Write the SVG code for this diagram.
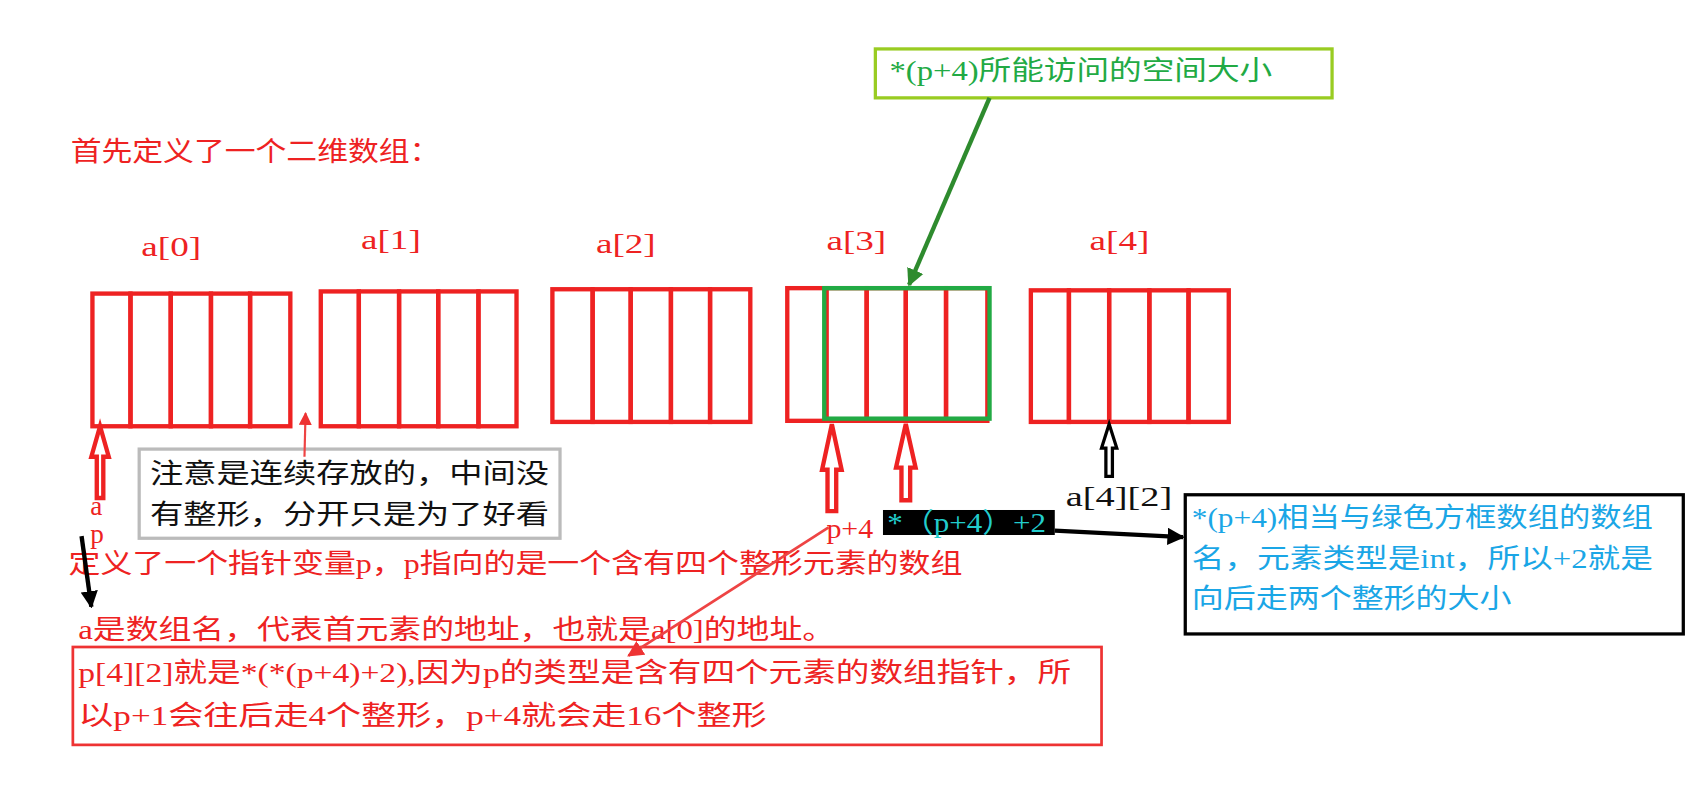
<svg xmlns="http://www.w3.org/2000/svg" width="1705" height="788" viewBox="0 0 1705 788">
<style>
text{font-family:"Liberation Serif","Noto Sans CJK SC",serif;font-size:25px}
.r{fill:#ee2222}.k{fill:#111}.c{fill:#1aa6e6}
.cell{fill:none;stroke:#ee2222;stroke-width:4}
.ho{fill:none;stroke:#ee2222;stroke-width:4}
</style>
<defs>
<marker id="ab" viewBox="0 0 10 10" refX="9" refY="5" markerWidth="4" markerHeight="4" orient="auto"><path d="M0,0L10,5L0,10z" fill="#000"/></marker>
<marker id="ar" viewBox="0 0 10 10" refX="9" refY="5" markerWidth="6" markerHeight="6" orient="auto"><path d="M0,0L10,5L0,10z" fill="#ee3333"/></marker>
<marker id="ag" viewBox="0 0 10 10" refX="9" refY="5" markerWidth="4" markerHeight="5" orient="auto"><path d="M0,0L10,5L0,10z" fill="#2e8b2e"/></marker>
</defs>
<rect width="1705" height="788" fill="#fff"/>
<g transform="scale(1.0874)">
<g id="title"><text class="r" x="65" y="148" textLength="340" lengthAdjust="spacingAndGlyphs">首先定义了一个二维数组：</text></g>
<g id="labels">
<text class="r" x="130" y="235" textLength="55" lengthAdjust="spacingAndGlyphs">a[0]</text><text class="r" x="332" y="229" textLength="55" lengthAdjust="spacingAndGlyphs">a[1]</text><text class="r" x="548" y="233" textLength="55" lengthAdjust="spacingAndGlyphs">a[2]</text><text class="r" x="760" y="230" textLength="55" lengthAdjust="spacingAndGlyphs">a[3]</text><text class="r" x="1002" y="230" textLength="55" lengthAdjust="spacingAndGlyphs">a[4]</text>
</g>
<g id="a0"><rect class="cell" x="85" y="270" width="35" height="122"/><rect class="cell" x="120" y="270" width="37" height="122"/><rect class="cell" x="157" y="270" width="37" height="122"/><rect class="cell" x="194" y="270" width="36" height="122"/><rect class="cell" x="230" y="270" width="37" height="122"/></g>
<g id="a1"><rect class="cell" x="295" y="268" width="35" height="124"/><rect class="cell" x="330" y="268" width="37" height="124"/><rect class="cell" x="367" y="268" width="36" height="124"/><rect class="cell" x="403" y="268" width="37" height="124"/><rect class="cell" x="440" y="268" width="35" height="124"/></g>
<g id="a2"><rect class="cell" x="508" y="266" width="37" height="122"/><rect class="cell" x="545" y="266" width="35" height="122"/><rect class="cell" x="580" y="266" width="37" height="122"/><rect class="cell" x="617" y="266" width="36" height="122"/><rect class="cell" x="653" y="266" width="37" height="122"/></g>
<g id="a3"><rect class="cell" x="724" y="265" width="36" height="122"/><rect class="cell" x="760" y="265" width="37" height="122"/><rect class="cell" x="797" y="265" width="36" height="122"/><rect class="cell" x="833" y="265" width="37" height="122"/><rect class="cell" x="870" y="265" width="38" height="122"/>
<rect x="758" y="265" width="152" height="120" fill="none" stroke="#22aa44" stroke-width="4"/></g>
<g id="a4"><rect class="cell" x="948" y="267" width="35" height="121"/><rect class="cell" x="983" y="267" width="37" height="121"/><rect class="cell" x="1020" y="267" width="37" height="121"/><rect class="cell" x="1057" y="267" width="36" height="121"/><rect class="cell" x="1093" y="267" width="37" height="121"/></g>
<g id="note"><rect x="128" y="413" width="387" height="82" fill="#fff" stroke="#bbb" stroke-width="3"/>
<text class="k" x="138" y="444" textLength="367" lengthAdjust="spacingAndGlyphs">注意是连续存放的，中间没</text><text class="k" x="138" y="482" textLength="367" lengthAdjust="spacingAndGlyphs">有整形，分开只是为了好看</text></g>
<g id="ap"><text class="r" x="83" y="474" font-size="22">a</text><text class="r" x="83" y="499" font-size="22">p</text></g>
<g id="t1"><text class="r" x="63" y="527" textLength="822" lengthAdjust="spacingAndGlyphs">定义了一个指针变量p，p指向的是一个含有四个整形元素的数组</text></g>
<g id="t2"><text class="r" x="72" y="588" textLength="696" lengthAdjust="spacingAndGlyphs">a是数组名，代表首元素的地址，也就是a[0]的地址。</text></g>
<g id="box1"><rect x="67" y="595" width="946" height="90" fill="none" stroke="#ee3333" stroke-width="2.5"/>
<text class="r" x="72" y="627" textLength="913" lengthAdjust="spacingAndGlyphs">p[4][2]就是*(*(p+4)+2),因为p的类型是含有四个元素的数组指针，所</text><text class="r" x="72" y="667" textLength="633" lengthAdjust="spacingAndGlyphs">以p+1会往后走4个整形，p+4就会走16个整形</text></g>
<g id="p4"><text class="r" x="760" y="495" textLength="43" lengthAdjust="spacingAndGlyphs">p+4</text></g>
<g id="expr"><rect x="812" y="469" width="158" height="23" fill="#000"/><text x="816" y="489" fill="#22cccc" font-size="22" textLength="146" lengthAdjust="spacingAndGlyphs">*（p+4）+2</text></g>
<g id="a42"><text class="k" x="980" y="465" textLength="98" lengthAdjust="spacingAndGlyphs">a[4][2]</text></g>
<g id="box2"><rect x="1090" y="455" width="458" height="128" fill="#fff" stroke="#000" stroke-width="3"/>
<text class="c" x="1096" y="485" textLength="424" lengthAdjust="spacingAndGlyphs">*(p+4)相当与绿色方框数组的数组</text><text class="c" x="1096" y="522" textLength="424" lengthAdjust="spacingAndGlyphs">名，元素类型是int，所以+2就是</text><text class="c" x="1096" y="559" textLength="294" lengthAdjust="spacingAndGlyphs">向后走两个整形的大小</text></g>
<g id="box3"><rect x="805" y="45" width="420" height="45" fill="#fff" stroke="#99cc22" stroke-width="3"/><text x="818" y="74" fill="#22aa44" textLength="352" lengthAdjust="spacingAndGlyphs">*(p+4)所能访问的空间大小</text></g>
<g id="connectors">
<path class="ho" d="M92,392 L84,420 L89,420 L89,458 L95,458 L95,420 L100,420 Z"/>
<path class="ho" d="M765,390 L756,432 L761,432 L761,470 L769,470 L769,432 L774,432 Z"/>
<path class="ho" d="M833,390 L824,430 L829,430 L829,460 L837,460 L837,430 L842,430 Z"/>
<path d="M1020,390 L1013,412 L1017,412 L1017,438 L1023,438 L1023,412 L1027,412 Z" fill="none" stroke="#000" stroke-width="3"/>
<line x1="280" y1="420" x2="281" y2="380" stroke="#ee4444" stroke-width="2" marker-end="url(#ar)"/>
<line x1="75" y1="493" x2="84" y2="558" stroke="#000" stroke-width="4" marker-end="url(#ab)"/>
<line x1="762" y1="485" x2="578" y2="603" stroke="#ee4444" stroke-width="2.5" marker-end="url(#ar)"/>
<line x1="970" y1="488" x2="1088" y2="494" stroke="#000" stroke-width="4" marker-end="url(#ab)"/>
<line x1="910" y1="90" x2="836" y2="262" stroke="#2e8b2e" stroke-width="4" marker-end="url(#ag)"/>
</g>
</g>
</svg>
